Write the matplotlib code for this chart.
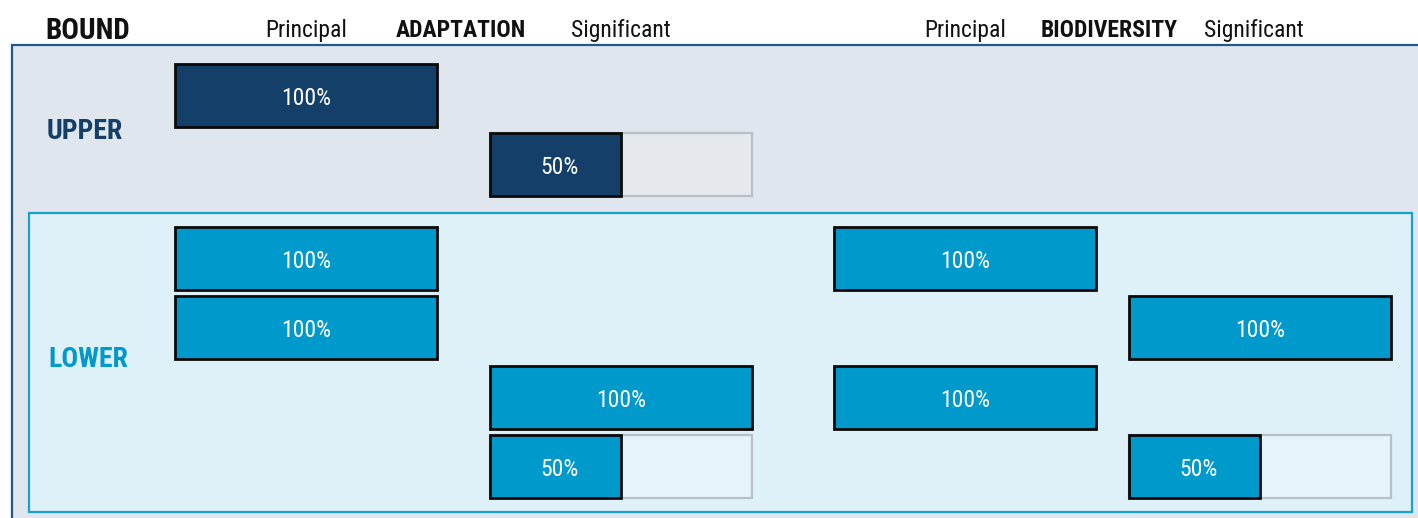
import matplotlib
matplotlib.use("Agg")
import matplotlib.pyplot as plt
from matplotlib.patches import Rectangle

# ---------------- data ----------------
groups = ["ADAPTATION", "BIODIVERSITY"]
levels = ["Principal", "Significant"]
bounds = ["UPPER", "LOWER"]
# one entry per row; values for columns: adaptation-principal, adaptation-significant,
# biodiversity-principal, biodiversity-significant (None = no bar)
upper_rows = [
    [100, None, None, None],
    [None, 50, None, None],
]
lower_rows = [
    [100, None, 100, None],
    [100, None, None, 100],
    [None, 100, 100, None],
    [None, 50, None, 50],
]

plt.rcParams["font.family"] = ["Roboto Condensed", "Roboto", "DejaVu Sans"]

# ---------------- layout ----------------
W, H = 1418, 518
fig = plt.figure(figsize=(W / 100, H / 100), dpi=100)
ax = fig.add_axes([0, 0, 1, 1])
ax.set_xlim(0, W)
ax.set_ylim(H, 0)
ax.axis("off")

col_x = [175, 490, 834, 1129]
track_w = 262
bar_h = 63
upper_y = [95.5, 164.5]
lower_y = [258.5, 327.5, 397.5, 466.5]

dark = "#133f69"
light = "#0099cc"

# frames
ax.add_patch(Rectangle((12, 45), 1420, 490, facecolor="#dfe6ee", edgecolor="#24588a", lw=1.6, zorder=0))
ax.add_patch(Rectangle((29, 213), 1383, 299, facecolor="#dff1f8", edgecolor="#17a0d2", lw=1.6, zorder=1))


def draw_rows(rows, ys, color, track_fc):
    for row, yc in zip(rows, ys):
        for ci, v in enumerate(row):
            if v is None:
                continue
            x0 = col_x[ci]
            if v < 100:
                ax.barh(yc, track_w, height=bar_h, left=x0, color=track_fc,
                        edgecolor="#b7c0c7", linewidth=1.6, zorder=2)
            w = track_w * v / 100
            ax.barh(yc, w, height=bar_h, left=x0, color=color,
                    edgecolor="#0a0a0a", linewidth=2.0, zorder=3)
            off = 4 if v < 100 else 0
            ax.text(x0 + w / 2 + off, yc + 9.5, f"{v}%", color="white", fontsize=17,
                    ha="center", va="baseline", zorder=4)


draw_rows(upper_rows, upper_y, dark, "#e5e9ee")
draw_rows(lower_rows, lower_y, light, "#e6f3f9")

# row labels
ax.text(85, 139, bounds[0], color=dark, fontsize=20, fontweight="bold", ha="center", va="baseline")
ax.text(88, 367, bounds[1], color=light, fontsize=20, fontweight="bold", ha="center", va="baseline")

# header
hb = 37
ax.text(88, hb + 2, "BOUND", fontsize=21, fontweight="bold", ha="center", va="baseline", color="#111111")
for gi, g in enumerate(groups):
    cp = col_x[2 * gi] + track_w / 2
    cs = col_x[2 * gi + 1] + track_w / 2
    ax.text(cp, hb, levels[0], fontsize=17, ha="center", va="baseline", color="#111111")
    ax.text(cs - (6 if gi else 0), hb, levels[1], fontsize=17, ha="center", va="baseline", color="#111111")
    gx = (col_x[2 * gi] + track_w + col_x[2 * gi + 1]) / 2
    ax.text(gx - 3, hb, g, fontsize=17, fontweight="bold", ha="center", va="baseline", color="#111111")

fig.savefig("out.png", dpi=100)
